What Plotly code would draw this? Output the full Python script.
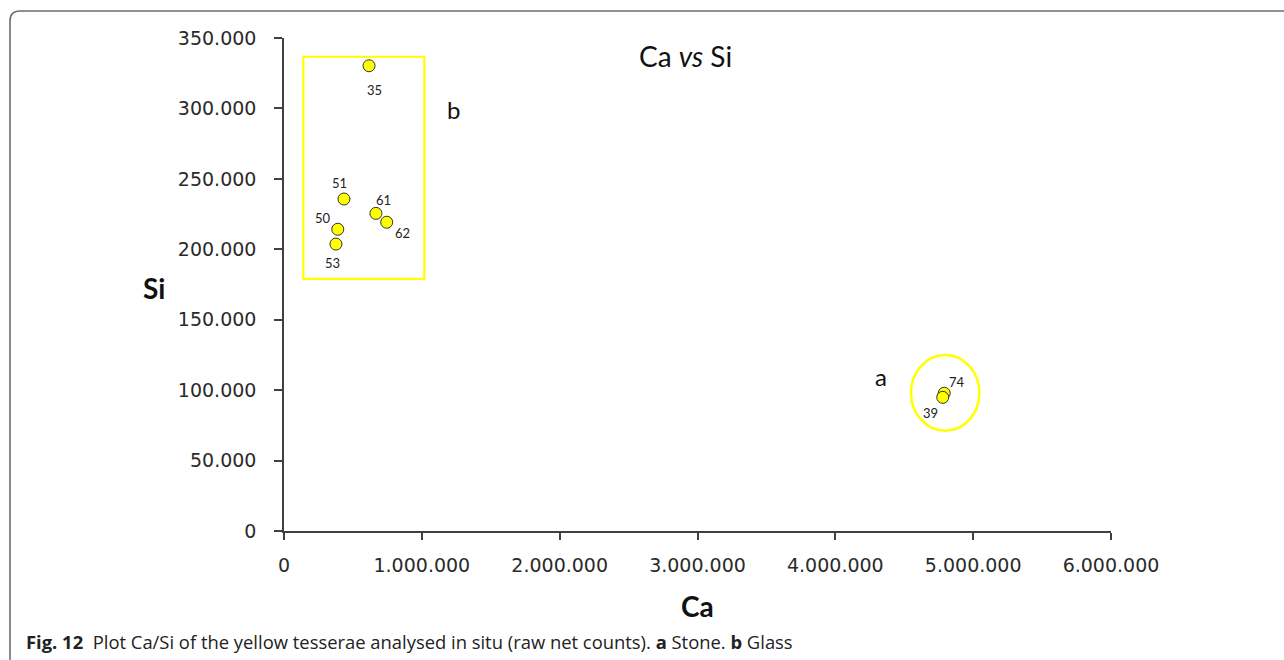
import plotly.graph_objects as go

# ---- data ----
sample_ids = ["35", "51", "61", "62", "50", "53", "74", "39"]
ca_counts = [617000, 435000, 667000, 745000, 390000, 377000, 4790000, 4779000]
si_counts = [330300, 235700, 225500, 219200, 214200, 203700, 97800, 94900]

x_tick_vals = [0, 1000000, 2000000, 3000000, 4000000, 5000000, 6000000]
x_tick_text = ["0", "1.000.000", "2.000.000", "3.000.000", "4.000.000", "5.000.000", "6.000.000"]
y_tick_vals = [0, 50000, 100000, 150000, 200000, 250000, 300000, 350000]
y_tick_text = ["0", "50.000", "100.000", "150.000", "200.000", "250.000", "300.000", "350.000"]

# group outlines (data space): b = glass (rectangle), a = stone (ellipse)
group_b_box = [140000, 179000, 1018000, 336700]
group_a_box = [4549000, 71200, 5045000, 124900]
group_labels = ["a", "b"]
group_label_x = [4331000, 1233000]
group_label_y = [110000, 298900]

# label offsets in pixels (style)
label_shift = {
    "35": (5, -24), "51": (-4, 16), "61": (8, 13), "62": (16, -11),
    "50": (-15, 11), "53": (-3, -19), "74": (13, 11), "39": (-12, -16),
}

W, H = 1284, 660
L, R, T, B = 284, 173, 38, 129
PW, PH = W - L - R, H - T - B

def px(xp):
    return (xp - L) / PW

def py(yp):
    return (H - B - yp) / PH

LABEL_FONT = "Lato, 'Open Sans', sans-serif"
TICK_FONT = "'DejaVu Sans', Verdana, sans-serif"
AXIS_COLOR = "#404040"

fig = go.Figure()
fig.add_trace(go.Scatter(
    x=ca_counts, y=si_counts, mode="markers",
    marker=dict(size=12, color="#FFFF00", line=dict(color="#333333", width=1)),
    showlegend=False, hoverinfo="x+y",
    cliponaxis=False,
))

annotations = []
for sid, xv, yv in zip(sample_ids, ca_counts, si_counts):
    dx, dy = label_shift[sid]
    annotations.append(dict(x=xv, y=yv, text=sid, showarrow=False, xshift=dx, yshift=dy,
                            xanchor="center", yanchor="middle",
                            font=dict(family=LABEL_FONT, size=13, color="#222222")))
for gl, gx, gy in zip(group_labels, group_label_x, group_label_y):
    annotations.append(dict(x=gx, y=gy, text=gl, showarrow=False,
                            xanchor="center", yanchor="middle",
                            font=dict(family=LABEL_FONT, size=24, color="#111111")))

# title and axis titles
annotations.append(dict(xref="paper", yref="paper", x=px(685), y=py(56), text="Ca <i>vs</i> Si",
                        xanchor="center", yanchor="middle",
                        showarrow=False, font=dict(family=LABEL_FONT, size=28, color="#111111")))
annotations.append(dict(xref="paper", yref="paper", x=px(154), y=py(288), text="<b>Si</b>",
                        xanchor="center", yanchor="middle",
                        showarrow=False, font=dict(family=LABEL_FONT, size=28, color="#111111")))
annotations.append(dict(xref="paper", yref="paper", x=px(697), y=py(606), text="<b>Ca</b>",
                        xanchor="center", yanchor="middle",
                        showarrow=False, font=dict(family=LABEL_FONT, size=28, color="#111111")))
# caption
annotations.append(dict(xref="paper", yref="paper", x=px(24), y=py(641), xanchor="left", yanchor="middle",
                        text="<b>Fig. 12</b>  Plot Ca/Si of the yellow tesserae analysed in situ (raw net counts). "
                             "<b>a</b> Stone. <b>b</b> Glass",
                        showarrow=False,
                        font=dict(family="'Open Sans', sans-serif", size=18.4, color="#222222")))

shapes = [
    dict(type="rect", xref="x", yref="y",
         x0=group_b_box[0], y0=group_b_box[1], x1=group_b_box[2], y1=group_b_box[3],
         line=dict(color="#FFFF00", width=2.2), layer="below"),
    dict(type="circle", xref="x", yref="y",
         x0=group_a_box[0], y0=group_a_box[1], x1=group_a_box[2], y1=group_a_box[3],
         line=dict(color="#FFFF00", width=2.5), layer="below"),
]
# outer rounded frame
x0f, y0f, x1f, y1f, r = 10, 11, 1300, 661, 10
path = (f"M {px(x0f + r)},{py(y0f)} L {px(x1f)},{py(y0f)} "
        f"M {px(x0f)},{py(y1f)} L {px(x0f)},{py(y0f + r)} "
        f"Q {px(x0f)},{py(y0f)} {px(x0f + r)},{py(y0f)}")
shapes.append(dict(type="path", xref="paper", yref="paper", path=path,
                   line=dict(color="#6e6e6e", width=1.6)))

fig.update_layout(
    width=W, height=H,
    margin=dict(l=L, r=R, t=T, b=B, pad=0),
    paper_bgcolor="white", plot_bgcolor="white",
    annotations=annotations, shapes=shapes,
    xaxis=dict(range=[0, 6000000], tickvals=x_tick_vals, ticktext=x_tick_text,
               showgrid=False, zeroline=False, showline=True, linecolor=AXIS_COLOR, linewidth=1.5,
               ticks="outside", ticklen=7, tickwidth=1.5, tickcolor=AXIS_COLOR,
               ticklabelstandoff=9,
               tickfont=dict(family=TICK_FONT, size=19, color="#2a2a2a")),
    yaxis=dict(range=[0, 350000], tickvals=y_tick_vals, ticktext=y_tick_text,
               showgrid=False, zeroline=False, showline=True, linecolor=AXIS_COLOR, linewidth=1.5,
               ticks="outside", ticklen=8, tickwidth=1.5, tickcolor=AXIS_COLOR,
               ticklabelstandoff=14,
               tickfont=dict(family=TICK_FONT, size=19, color="#2a2a2a")),
)

fig.write_html("out.html", config={"displayModeBar": False},
               post_script="document.body.style.margin='0';document.body.style.padding='0';")
